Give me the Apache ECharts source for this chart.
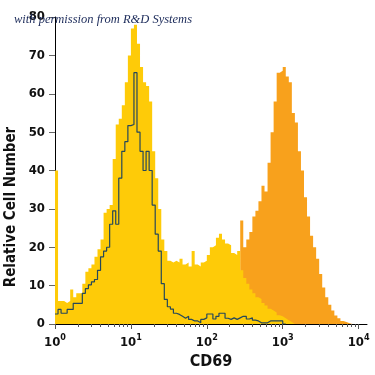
<!DOCTYPE html>
<html>
<head>
<meta charset="utf-8">
<script src="https://cdn.jsdelivr.net/npm/echarts@6/dist/echarts.min.js"></script>
<style>html,body{margin:0;padding:0;background:#fff}#c{width:375px;height:375px}</style>
</head>
<body>
<div id="c"></div>
<script>
// channel width in decades of CD69 (log10 units)
const binStep = 0.04;
const decadeTicks = [0, 1, 2, 3, 4];
const minorMultipliers = [2, 3, 4, 5, 6, 7, 8, 9];
const yTicks = [0, 10, 20, 30, 40, 50, 60, 70, 80];

// CD69 staining (yellow, filled)
const yellowCounts = [40,6,6,5.5,6,9,7,8,8,10.5,
  13.6,14.5,15.5,17.5,19.5,22,29,30,31,43,
  52,53.5,57,63,70,77,78,73,67,63,
  62,58,45,38,30,22,19,16.5,16,16.5,
  16,17,15.5,16,15,19,15.5,15,16,16.5,
  18,20,20.5,22.5,23.5,22,21,20.5,18.5,18,
  19,14,12,10.5,9,8,7,6.5,5.5,4.8,
  4,3.5,3,2.3,2,1.5,1,0.5,0,0,
  0,0,0,0,0,0,0,0,0,0,
  0,0,0,0,0,0,0,0,0,0];

// CD69 staining (orange, filled)
const orangeCounts = [0,0,0,0,0,0,0,0,0,0,
  0,0,0,0,0,0,0,0,0,0,
  0,0,0,0,0,0,0,0,0,0,
  0,0,0,0,0,0,0,0,0,0,
  0,0,0,0,0,0,0,0,0,0,
  0,0,0,0,0,0,3,5,7,9,
  12,27,20,22,24,28,29.5,32,36,34.5,
  42,50,58,65.5,66,67,64.5,63,55,52.5,
  45,40,33,28,23,20,17,13,9.5,7,
  5,3.5,2.2,1.5,0.8,0.5,0.2,0,0,0];

// isotype control (open outline)
const controlCounts = [2.6,3.8,2.8,2.8,3.8,3.8,5.4,5.4,5.4,8,
  9.2,10.2,11,11.6,14,17.5,19,20,26,29.5,
  26,38,45,47.5,51.7,52,65.5,50,45,40,
  45,40,31,23.4,19,10.5,6.4,4.5,3.9,2.8,
  2.5,2,1.5,2,1.2,0.8,0.8,0.3,1.2,1.6,
  2.6,2.6,1.3,2,2.8,2.8,1.5,1.2,1.6,1.2,
  1.6,2,2,1.3,1.6,1,0.8,0.3,0.3,0.3,
  0.8,0.8,0.8,0.8,0.8,0];

function toSeries(counts) {
  const d = counts.map((v, i) => [+(i * binStep).toFixed(4), v]);
  d.push([+(counts.length * binStep).toFixed(4), 0]);
  return d;
}
const minorTickValues = [];
for (let n = 0; n < 4; n++) minorMultipliers.forEach(m => minorTickValues.push(n + Math.log10(m)));

const FONT = '"Liberation Sans Narrow","DejaVu Sans Condensed","Roboto Condensed",sans-serif';
const chart = echarts.init(document.getElementById('c'), null, {renderer: 'canvas'});
chart.setOption({
  animation: false,
  title: {
    text: 'with permission from R&D Systems',
    left: 9, top: 8,
    textStyle: {fontFamily: '"Liberation Serif","DejaVu Serif",serif', fontStyle: 'italic', fontWeight: 'normal', fontSize: 12.5, color: '#1c2b5a'}
  },
  graphic: [{
    type: 'text', x: 11, y: 207, rotation: Math.PI / 2,
    style: {text: 'Relative Cell Number', font: 'bold 15px ' + FONT, fill: '#111', align: 'center', verticalAlign: 'middle'}
  }],
  grid: {left: 55, right: 8, top: 17, bottom: 47},
  xAxis: [{
    type: 'value', min: 0, max: 4.11, interval: 1, position: 'bottom',
    name: 'CD69', nameLocation: 'middle', nameGap: 30,
    nameTextStyle: {fontFamily: FONT, fontWeight: 'bold', fontSize: 16, color: '#111'},
    axisLine: {show: true, onZero: false, lineStyle: {color: '#000', width: 1}},
    axisTick: {show: true, length: 5, customValues: decadeTicks, lineStyle: {color: '#555'}},
    splitLine: {show: false},
    axisLabel: {
      customValues: decadeTicks, margin: 9,
      formatter: v => '{b|10}{s|' + v + '}',
      rich: {
        b: {fontFamily: FONT, fontSize: 13, fontWeight: 'bold', color: '#111', verticalAlign: 'bottom', lineHeight: 16},
        s: {fontFamily: FONT, fontSize: 9, fontWeight: 'bold', color: '#111', verticalAlign: 'top', lineHeight: 16, padding: [0, 0, 6, 0]}
      }
    }
  }, {
    type: 'value', min: 0, max: 4.11, position: 'bottom',
    axisLine: {show: false},
    axisTick: {show: true, length: 3, customValues: minorTickValues, lineStyle: {color: '#555'}},
    axisLabel: {show: false},
    splitLine: {show: false}
  }],
  yAxis: {
    type: 'value', min: 0, max: 80, interval: 10,
    axisLine: {show: true, lineStyle: {color: '#000', width: 1}},
    axisTick: {show: true, length: 6, lineStyle: {color: '#666'}},
    splitLine: {show: false},
    axisLabel: {margin: 10, fontFamily: FONT, fontSize: 13, fontWeight: 'bold', color: '#111'}
  },
  series: [{
    type: 'line', step: 'end', symbol: 'none', data: toSeries(orangeCounts),
    lineStyle: {width: 0}, areaStyle: {color: '#f8a11c', opacity: 1}, z: 1
  }, {
    type: 'line', step: 'end', symbol: 'none', data: toSeries(yellowCounts),
    lineStyle: {width: 0}, areaStyle: {color: '#fecb08', opacity: 1}, z: 2
  }, {
    type: 'line', step: 'end', symbol: 'none', data: toSeries(controlCounts),
    lineStyle: {width: 1.2, color: '#26485a'}, z: 3
  }]
});
</script>
</body>
</html>
